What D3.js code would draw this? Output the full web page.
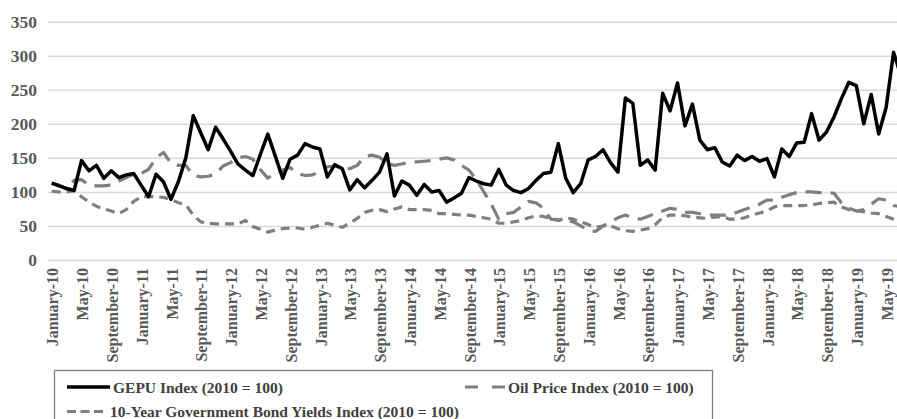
<!DOCTYPE html>
<html>
<head>
<meta charset="utf-8">
<script src="https://cdn.jsdelivr.net/npm/d3@7"></script>
<style>
	body { margin: 0; background: #fff; }
	#chart { width: 897px; height: 419px; }
	#chart text { font-family: "Liberation Serif", "Times New Roman", serif; font-weight: bold; }
</style>
</head>
<body>
<div id="chart"></div>
<script>
//monthly series, January 2010 onwards (index = month number)
var gepu = [113, 109, 105, 102, 146, 131, 139, 120, 131, 121, 125, 127,
	110, 93, 126, 115, 89, 115, 150, 212, 187, 162, 195, 178,
	160, 141, 132, 124, 155, 185, 153, 120, 148, 154, 171, 166,
	163, 122, 140, 134, 103, 118, 106, 117, 129, 156, 94, 116,
	110, 95, 111, 100, 102, 85, 91, 98, 121, 116, 112, 110,
	133, 110, 102, 99, 105, 117, 127, 129, 171, 120, 99, 112,
	147, 152, 162, 143, 129, 238, 230, 139, 147, 132, 245, 219,
	260, 197, 229, 176, 162, 165, 144, 138, 154, 146, 152, 145,
	149, 122, 163, 152, 172, 173, 215, 176, 188, 210, 237, 261,
	256, 200, 243, 185, 224, 305, 270];

var oil = [113, 110, 104, 117, 118, 110, 109, 109, 110, 116, 121, 126,
	127, 133, 150, 158, 142, 139, 139, 124, 122, 123, 126, 138,
	143, 150, 152, 148, 133, 120, 128, 132, 136, 127, 124, 125,
	130, 137, 138, 135, 134, 139, 152, 154, 151, 142, 139, 141,
	144, 144, 145, 146, 148, 150, 147, 139, 132, 118, 100, 82,
	60, 68, 70, 78, 86, 84, 76, 60, 59, 58, 56, 50,
	44, 42, 50, 56, 62, 66, 62, 60, 64, 68, 72, 76,
	74, 70, 70, 68, 66, 66, 66, 66, 70, 74, 78, 82,
	88, 88, 92, 96, 99, 100, 100, 99, 99, 98, 84, 76,
	72, 74, 82, 90, 88, 80, 78];

var bonds = [101, 100, 100, 102, 93, 85, 79, 75, 72, 68, 74, 86,
	93, 93, 93, 92, 89, 84, 81, 66, 56, 54, 53, 53,
	53, 53, 58, 49, 45, 41, 44, 46, 47, 47, 45, 48,
	51, 54, 51, 48, 54, 61, 70, 73, 74, 71, 75, 78,
	74, 74, 74, 73, 68, 68, 67, 66, 66, 64, 62, 60,
	54, 54, 56, 58, 62, 65, 64, 61, 58, 62, 60, 56,
	52, 48, 50, 50, 46, 43, 42, 44, 46, 52, 62, 66,
	66, 65, 63, 62, 61, 63, 64, 60, 60, 62, 66, 69,
	72, 78, 80, 80, 80, 80, 81, 83, 84, 85, 78, 74,
	72, 71, 69, 68, 64, 60, 55];

var monthNames = ["January", "February", "March", "April", "May", "June", "July",
	"August", "September", "October", "November", "December"];
var tickLabels = ["January-10", "May-10", "September-10", "January-11", "May-11", "September-11",
	"January-12", "May-12", "September-12", "January-13", "May-13", "September-13",
	"January-14", "May-14", "September-14", "January-15", "May-15", "September-15",
	"January-16", "May-16", "September-16", "January-17", "May-17", "September-17",
	"January-18", "May-18", "September-18", "January-19", "May-19"];
var yTicks = [0, 50, 100, 150, 200, 250, 300, 350];

var seriesNames = ["GEPU Index (2010 = 100)", "Oil Price Index (2010 = 100)",
	"10-Year Government Bond Yields Index (2010 = 100)"];

//month category names built from the month list
var months = gepu.map(function(d, i){
	return monthNames[i % 12] + "-" + (10 + Math.floor(i / 12));
});

var lineChart = function(opts){
	this.element = opts.element;
	this.series = opts.series;
	this.draw(this.element);
}

lineChart.prototype.draw = function(chartElement){

	//define dimensions
	this.width = 897;
	this.height = 419;
	this.plotLeft = 48;
	this.step = 7.45;

	chartElement.innerHTML = '';

	this.svg = d3.select(chartElement).append('svg')
		.attr('width', this.width)
		.attr('height', this.height);

	this.processScales();
	this.addAxes();
	this.addLines();
	this.addLegend();
}

lineChart.prototype.processScales = function(){
	this.x = d3.scalePoint()
		.domain(months)
		.range([this.plotLeft, this.plotLeft + this.step * months.length])
		.padding(0.5);

	this.y = d3.scaleLinear()
		.domain([0, 350])
		.range([260, 21.7]);
}

lineChart.prototype.addAxes = function(){

	//horizontal gridlines + value labels
	var yAxis = this.svg.append('g')
		.attr('transform', 'translate(' + this.plotLeft + ',0)')
		.call(d3.axisLeft(this.y)
			.tickValues(yTicks)
			.tickSize(-(this.width - this.plotLeft))
			.tickPadding(11));

	yAxis.attr('font-family', null).attr('font-size', null);
	yAxis.select('.domain').remove();
	yAxis.selectAll('line')
		.attr('stroke', '#d9d9d9')
		.attr('stroke-width', 1.5);
	yAxis.selectAll('text')
		.attr('fill', '#595959')
		.style('font-size', '17.5px');

	//rotated month labels
	var byLabel = {};
	tickLabels.forEach(function(d){ byLabel[d] = true; });

	var xAxis = this.svg.append('g')
		.attr('transform', 'translate(0,260)')
		.call(d3.axisBottom(this.x)
			.tickValues(months.filter(function(d){ return byLabel[d]; }))
			.tickSize(0));

	xAxis.attr('font-family', null).attr('font-size', null);
	xAxis.select('.domain').remove();
	xAxis.selectAll('text')
		.attr('transform', 'rotate(-90)')
		.attr('x', -8)
		.attr('y', 0)
		.attr('dy', '0.38em')
		.style('text-anchor', 'end')
		.style('font-size', '16px')
		.attr('fill', '#595959');
}

lineChart.prototype.addLines = function(){
	var that = this;

	var line = d3.line()
		.x(function(d, i){ return that.x(months[i]); })
		.y(function(d){ return that.y(d); });

	//draw grey series first so GEPU sits on top
	this.series.slice().reverse().forEach(function(s){
		that.svg.append('path')
			.datum(s.values)
			.attr('fill', 'none')
			.attr('stroke', s.color)
			.attr('stroke-width', s.width)
			.attr('stroke-dasharray', s.dash)
			.attr('stroke-linejoin', 'round')
			.attr('d', line);
	});
}

lineChart.prototype.addLegend = function(){

	var legend = this.svg.append('g');

	legend.append('rect')
		.attr('x', 54.5)
		.attr('y', 370.5)
		.attr('width', 658)
		.attr('height', 70)
		.attr('fill', '#fff')
		.attr('stroke', '#7f7f7f')
		.attr('stroke-width', 1.3);

	var spots = [
		{x: 67, y: 387, len: 43},
		{x: 465, y: 387, len: 40},
		{x: 67, y: 411.5, len: 40}
	];

	this.series.forEach(function(s, i){
		var p = spots[i];
		legend.append('line')
			.attr('x1', p.x)
			.attr('x2', p.x + p.len)
			.attr('y1', p.y)
			.attr('y2', p.y)
			.attr('stroke', s.color)
			.attr('stroke-width', s.width)
			.attr('stroke-dasharray', s.legendDash);
		legend.append('text')
			.attr('x', p.x + p.len + 3)
			.attr('y', p.y + 5.5)
			.attr('fill', '#404040')
			.style('font-size', '15.5px')
			.text(s.name);
	});
}

var chart = new lineChart({
	element: document.getElementById('chart'),
	series: [
		{name: seriesNames[0], values: gepu, color: '#000', width: 3.5, dash: null, legendDash: null},
		{name: seriesNames[1], values: oil, color: '#7f7f7f', width: 3.2, dash: '16,9', legendDash: '13,14'},
		{name: seriesNames[2], values: bonds, color: '#7f7f7f', width: 3.2, dash: '9,6', legendDash: '9,4.5'}
	]
});
</script>
</body>
</html>
